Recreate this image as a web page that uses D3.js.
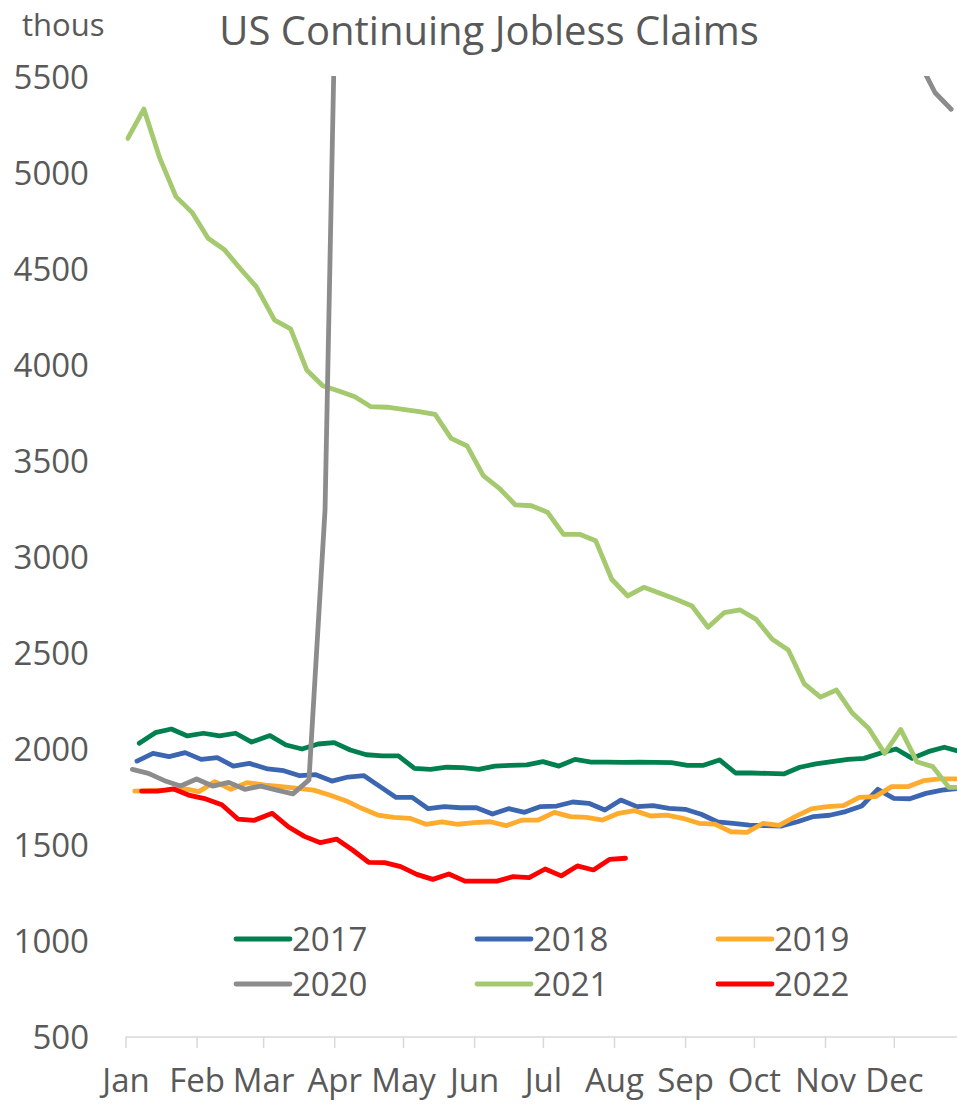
<!DOCTYPE html>
<html>
<head>
<meta charset="utf-8">
<script src="https://cdn.jsdelivr.net/npm/d3@7"></script>
<style>
  body { margin: 0; background: #fff; }
  svg { display: block; font-family: "Open Sans", sans-serif; }
</style>
</head>
<body>
<script>
// weekly continuing claims, thousands (week ending dates)
const years = ["2017", "2018", "2019", "2020", "2021", "2022"];
const firstWeek = ["2017-01-07", "2018-01-06", "2019-01-05", "2020-01-04", "2021-01-02", "2022-01-08"];

const claims2017 = [2030,2085,2104,2068,2082,2068,2082,2036,2070,2021,2000,2026,2033,1995,1970,1964,1964,1899,1894,1905,
  1903,1894,1911,1915,1917,1934,1911,1946,1932,1932,1930,1932,1930,1929,1915,1915,1943,1875,1875,1873,
  1870,1905,1922,1934,1946,1951,1978,2000,1951,1986,2009,1986];
const claims2018 = [1937,1977,1960,1981,1946,1955,1911,1925,1896,1887,1861,1866,1833,1854,1861,1804,1748,1748,1689,1700,
  1694,1694,1661,1689,1670,1700,1703,1724,1717,1682,1734,1700,1705,1691,1686,1660,1621,1613,1604,1601,
  1599,1621,1648,1655,1674,1703,1790,1743,1741,1769,1786,1795];
const claims2019 = [1781,1783,1786,1795,1778,1830,1790,1825,1812,1804,1795,1786,1760,1731,1691,1656,1644,1639,1608,1621,
  1608,1616,1621,1601,1630,1630,1670,1648,1644,1630,1665,1679,1651,1656,1639,1613,1609,1569,1566,1613,
  1602,1648,1688,1700,1705,1748,1752,1804,1804,1835,1844,1844];
const claims2020 = [1894,1873,1835,1807,1844,1807,1826,1790,1807,1786,1766,1839,3245,7446,11914,15819,18011,22377,22548,24912,
  20838,21052,19290,20289,19231,17760,17338,18062,16151,16951,16090,15486,14759,14535,13544,13385,12628,12580,11767,10976,
  10018,8373,7756,7285,6786,6370,6089,6071,5781,5581,5418,5332];
const claims2021 = [5180,5333,5076,4877,4795,4660,4602,4503,4408,4234,4188,3974,3892,3865,3835,3783,3780,3769,3757,3743,
  3618,3578,3424,3358,3271,3267,3233,3118,3118,3085,2884,2797,2842,2811,2780,2745,2634,2710,2724,2675,
  2571,2516,2339,2270,2307,2186,2108,1977,2102,1934,1908,1800,1800];
const claims2022 = [1781,1781,1792,1758,1740,1710,1635,1628,1665,1595,1545,1512,1531,1474,1410,1408,1387,1347,1321,1349,
  1312,1312,1312,1335,1330,1375,1339,1391,1370,1425,1431];

const yTicks = [500, 1000, 1500, 2000, 2500, 3000, 3500, 4000, 4500, 5000, 5500];
const colors = ["#00804f", "#3c67b0", "#ffac2e", "#8c8c8c", "#a4c96f", "#ff0000"];
// draw order so the 2020 spike sits on top, like the original
const drawOrder = [0, 1, 2, 4, 5, 3];

const width = 957,
  height = 1104;

const parse = d3.timeParse("%Y-%m-%d");
const allValues = [claims2017, claims2018, claims2019, claims2020, claims2021, claims2022];

// put every year on a common (leap) year so the months line up
const series = years.map((yr, k) => {
  const start = parse(firstWeek[k]);
  return {
    year: yr,
    color: colors[k],
    points: allValues[k].map((v, i) => {
      const d = d3.timeDay.offset(start, 7 * i);
      return { date: new Date(2020 + d.getFullYear() - +yr, d.getMonth(), d.getDate()), value: v };
    })
  };
});

const x = d3.scaleTime()
  .domain([new Date(2020, 0, 1), new Date(2021, 0, 1)])
  .range([125.5, 125.5 + 366 * 2.2935]);

const y = d3.scaleLinear()
  .domain([500, 5500])
  .range([1037, 77]);

const svg = d3.select("body").append("svg")
  .attr("width", width)
  .attr("height", height);

svg.append("defs").append("clipPath")
  .attr("id", "plot")
  .append("rect")
  .attr("x", x.range()[0])
  .attr("y", y(5500) - 1)
  .attr("width", width)
  .attr("height", y(500) - y(5500) + 1);

// title and unit
svg.append("text")
  .attr("x", 489)
  .attr("y", 45)
  .attr("text-anchor", "middle")
  .attr("fill", "#595959")
  .style("font-size", "40px")
  .text("US Continuing Jobless Claims");

svg.append("text")
  .attr("x", 22)
  .attr("y", 36)
  .attr("fill", "#595959")
  .style("font-size", "31px")
  .text("thous");

// y labels, no axis line
svg.append("g")
  .selectAll("text")
  .data(yTicks)
  .join("text")
  .attr("x", 89)
  .attr("y", d => y(d))
  .attr("dy", "0.36em")
  .attr("text-anchor", "end")
  .attr("fill", "#595959")
  .style("font-size", "33px")
  .text(d => d);

// x axis, one tick per month start
const xAxis = svg.append("g")
  .attr("transform", `translate(0,${y(500)})`)
  .call(d3.axisBottom(x)
    .tickValues(d3.timeMonth.range(new Date(2020, 0, 1), new Date(2021, 0, 1)))
    .tickFormat(d3.timeFormat("%b"))
    .tickSizeInner(11)
    .tickSizeOuter(0)
    .tickPadding(21));

xAxis.select(".domain")
  .attr("d", `M${x.range()[0]},0H${width}`)
  .attr("stroke", "#d9d9d9")
  .attr("stroke-width", 1.5);
xAxis.selectAll(".tick line")
  .attr("stroke", "#d9d9d9")
  .attr("stroke-width", 1.5);
xAxis.selectAll(".tick text")
  .attr("fill", "#595959")
  .style("font-size", "33px")
  .style("font-family", "Open Sans, sans-serif");

// lines
const line = d3.line()
  .x(d => x(d.date))
  .y(d => y(d.value));

svg.append("g")
  .attr("clip-path", "url(#plot)")
  .selectAll("path")
  .data(drawOrder.map(k => series[k]))
  .join("path")
  .attr("fill", "none")
  .attr("stroke", d => d.color)
  .attr("stroke-width", 4.8)
  .attr("stroke-linejoin", "round")
  .attr("stroke-linecap", "round")
  .attr("d", d => line(d.points));

// legend, 3 columns x 2 rows
const legend = svg.append("g")
  .selectAll("g")
  .data(series)
  .join("g")
  .attr("transform", (d, i) => `translate(${236 + (i % 3) * 241},${939 + Math.floor(i / 3) * 45})`);

legend.append("line")
  .attr("x1", 0)
  .attr("x2", 54)
  .attr("stroke", d => d.color)
  .attr("stroke-width", 4.8)
  .attr("stroke-linecap", "round");

legend.append("text")
  .attr("x", 56)
  .attr("dy", "0.36em")
  .attr("fill", "#595959")
  .style("font-size", "33px")
  .text(d => d.year);
</script>
</body>
</html>
